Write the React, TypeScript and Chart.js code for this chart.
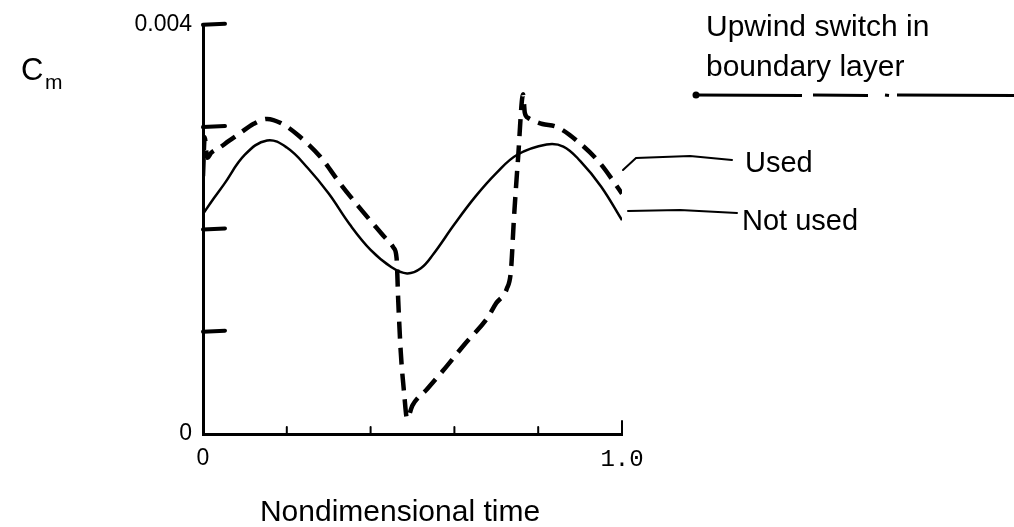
import React, { useEffect, useRef } from 'react';
import { Chart, registerables } from 'chart.js';

Chart.register(...registerables);

// ---- data ----
const timeNotUsed = [0, 0.025, 0.05, 0.1, 0.153, 0.2, 0.25, 0.3, 0.35, 0.4, 0.45, 0.487, 0.52, 0.55, 0.6, 0.65, 0.7, 0.75, 0.82, 0.86, 0.9, 0.95, 1.0];
const cmNotUsed = [0.00215, 0.0023, 0.00244, 0.00273, 0.00287, 0.0028, 0.0026, 0.00235, 0.00205, 0.0018, 0.00163, 0.00157, 0.00162, 0.00176, 0.00205, 0.00232, 0.00255, 0.00273, 0.00283, 0.00281, 0.00267, 0.00242, 0.00209];

const timeUsed = [0, 0.004, 0.01, 0.02, 0.04, 0.06, 0.088, 0.12, 0.153, 0.19, 0.23, 0.28, 0.327, 0.37, 0.43, 0.455, 0.462, 0.466, 0.472, 0.48, 0.487, 0.5, 0.535, 0.573, 0.625, 0.678, 0.7, 0.725, 0.735, 0.742, 0.752, 0.764, 0.768, 0.776, 0.79, 0.81, 0.845, 0.9, 0.947, 1.0];
const cmUsed = [0.00252, 0.0029, 0.0027, 0.00275, 0.0028, 0.00286, 0.00294, 0.00303, 0.00308, 0.00303, 0.00291, 0.00271, 0.00245, 0.00223, 0.00194, 0.00182, 0.00172, 0.0013, 0.0008, 0.0004, 0.00015, 0.00028, 0.00044, 0.00062, 0.00088, 0.00113, 0.00128, 0.00142, 0.0016, 0.0021, 0.0027, 0.00332, 0.00314, 0.00309, 0.00306, 0.00303, 0.003, 0.00284, 0.00265, 0.00235];

const xTickLabels = ['0', '', '', '', '', '1.0'];
const yTickLabels = ['0', '', '', '', '0.004'];
const xMinorTicks = [0.2, 0.4, 0.6, 0.8];
const yMinorTicks = [0.001, 0.002, 0.003, 0.004];

const SANS = '"Liberation Sans", Arial, sans-serif';
const MONO = '"Liberation Mono", "Courier New", monospace';

const annotationPlugin = {
  id: 'annotations',
  afterDraw(chart: any) {
    const ctx = chart.ctx as CanvasRenderingContext2D;
    const xs = chart.scales.x;
    const ys = chart.scales.y;
    ctx.save();
    ctx.strokeStyle = '#000';
    ctx.fillStyle = '#000';
    ctx.lineCap = 'round';

    // inward y ticks (thick)
    const x0 = xs.getPixelForValue(0);
    ctx.lineWidth = 4;
    for (const v of yMinorTicks) {
      const py = ys.getPixelForValue(v);
      ctx.beginPath();
      ctx.moveTo(x0, py);
      ctx.lineTo(x0 + 22, py - 1);
      ctx.stroke();
    }
    // inward x ticks (small)
    const y0 = ys.getPixelForValue(0);
    ctx.lineWidth = 2;
    for (const v of xMinorTicks) {
      const px = xs.getPixelForValue(v);
      ctx.beginPath();
      ctx.moveTo(px, y0);
      ctx.lineTo(px, y0 - 7);
      ctx.stroke();
    }
    {
      const px = xs.getPixelForValue(1.0);
      ctx.beginPath();
      ctx.moveTo(px, y0);
      ctx.lineTo(px, y0 - 13);
      ctx.stroke();
    }

    // axis titles
    ctx.textBaseline = 'alphabetic';
    ctx.textAlign = 'left';
    ctx.font = `31px ${SANS}`;
    ctx.fillText('C', 21, 80);
    ctx.font = `21px ${SANS}`;
    ctx.fillText('m', 45, 89);

    ctx.textAlign = 'center';
    ctx.font = `30px ${SANS}`;
    ctx.fillText('Nondimensional time', 400, 521);

    // legend block
    ctx.textAlign = 'left';
    ctx.font = `30px ${SANS}`;
    ctx.fillText('Upwind switch in', 706, 36);
    ctx.fillText('boundary layer', 706, 76);

    ctx.lineWidth = 3;
    ctx.lineCap = 'butt';
    const segs: [number, number][] = [[695, 802], [813, 868], [885, 889], [897, 1014]];
    for (const [a, b] of segs) {
      ctx.beginPath();
      ctx.moveTo(a, 95);
      ctx.lineTo(b, 95.5);
      ctx.stroke();
    }
    ctx.beginPath();
    ctx.arc(696, 95, 3.5, 0, Math.PI * 2);
    ctx.fill();

    // leaders
    ctx.lineWidth = 2;
    ctx.lineCap = 'round';
    ctx.beginPath();
    ctx.moveTo(623, 170);
    ctx.lineTo(636, 158);
    ctx.lineTo(690, 156);
    ctx.lineTo(732, 160);
    ctx.stroke();
    ctx.beginPath();
    ctx.moveTo(628, 211);
    ctx.lineTo(680, 210);
    ctx.lineTo(737, 213);
    ctx.stroke();

    ctx.font = `29px ${SANS}`;
    ctx.fillText('Used', 745, 172);
    ctx.fillText('Not used', 742, 230);
    ctx.restore();
  },
};

export default function App() {
  const ref = useRef<HTMLCanvasElement | null>(null);
  useEffect(() => {
    if (!ref.current) return;
    const chart = new Chart(ref.current, {
      type: 'line',
      data: {
        datasets: [
          {
            label: 'Not used',
            data: timeNotUsed.map((t, i) => ({ x: t, y: cmNotUsed[i] })),
            borderColor: '#000',
            borderWidth: 2.5,
            pointRadius: 0,
            tension: 0.4,
            fill: false,
          },
          {
            label: 'Used',
            data: timeUsed.map((t, i) => ({ x: t, y: cmUsed[i] })),
            borderColor: '#000',
            borderWidth: 4.5,
            borderDash: [17, 9],
            pointRadius: 0,
            cubicInterpolationMode: 'monotone',
            fill: false,
          },
        ],
      },
      options: {
        responsive: false,
        animation: false,
        devicePixelRatio: 1,
        layout: { padding: { left: 0, right: 392, top: 20, bottom: 0 } },
        plugins: { legend: { display: false }, tooltip: { enabled: false } },
        scales: {
          x: {
            type: 'linear',
            min: 0,
            max: 1,
            afterFit: (s: any) => { s.height = 93; },
            border: { display: true, color: '#000', width: 3 },
            grid: { display: false, drawTicks: false },
            ticks: {
              stepSize: 0.2,
              padding: 11,
              color: '#000',
              maxRotation: 0,
              autoSkip: false,
              font: (c: any) => (c.index === 5 ? { family: MONO, size: 24 } : { family: SANS, size: 23 }),
              callback: (_v: any, i: number) => xTickLabels[i] ?? '',
            },
          },
          y: {
            type: 'linear',
            min: 0,
            max: 0.004,
            afterFit: (s: any) => { s.width = 203; },
            border: { display: true, color: '#000', width: 3 },
            grid: { display: false, drawTicks: false },
            ticks: {
              stepSize: 0.001,
              padding: 11,
              color: '#000',
              autoSkip: false,
              font: { family: SANS, size: 23 },
              callback: (_v: any, i: number) => yTickLabels[i] ?? '',
            },
          },
        },
      },
      plugins: [annotationPlugin],
    } as any);
    return () => chart.destroy();
  }, []);
  return (
    <div style={{ position: 'absolute', left: 0, top: 0, width: 1014, height: 527, background: '#fff' }}>
      <canvas ref={ref} width={1014} height={527} style={{ display: 'block' }} />
    </div>
  );
}
